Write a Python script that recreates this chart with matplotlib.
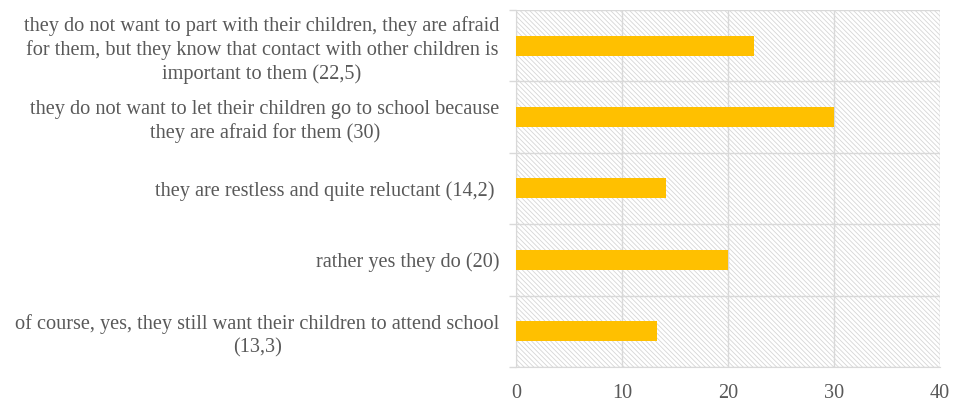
import numpy as np
import matplotlib
matplotlib.use("Agg")
import matplotlib.pyplot as plt
from matplotlib.patches import Rectangle

# answers, top to bottom as in the chart
labels = [
    "they do not want to part with their children, they are afraid\n"
    "for them, but they know that contact with other children is\n"
    "important to them (22,5)",
    "they do not want to let their children go to school because\n"
    "they are afraid for them (30)",
    "they are restless and quite reluctant (14,2) ",
    "rather yes they do (20)",
    "of course, yes, they still want their children to attend school\n"
    "(13,3)",
]
values = [22.5, 30, 14.2, 20, 13.3]
xticks = [0, 10, 20, 30, 40]

barColour = '#FFC000'
gridColour = '#D9D9D9'
textColour = '#595959'

plt.rcParams['font.family'] = ['Liberation Serif', 'DejaVu Serif']
plt.rcParams['hatch.linewidth'] = 0.6

fig = plt.figure(figsize=(9.54, 4.01), dpi=100)
ax = fig.add_axes([0.541, 0.085, 0.444, 0.89])

# hatched plot area background
bg = Rectangle((0, 0), 1, 1, transform=ax.transAxes, facecolor='white',
               edgecolor='#D6D6D6', linewidth=0, hatch='\\' * 7, zorder=0)
ax.add_patch(bg)

pos = np.arange(len(values))
ax.barh(pos, values, height=0.28, color=barColour, zorder=3)

ax.set_xlim(0, 40)
ax.set_ylim(len(values) - 0.5, -0.5)
ax.set_xticks(xticks)
ax.set_xticklabels([str(t) for t in xticks])

ax.set_yticks(pos)
ax.set_yticklabels(labels, multialignment='center', linespacing=1.26)
ax.set_yticks(np.arange(len(values) + 1) - 0.5, minor=True)

ax.grid(axis='x', which='major', color=gridColour, linewidth=1.0, zorder=1)
ax.grid(axis='y', which='minor', color=gridColour, linewidth=1.0, zorder=1)
ax.set_axisbelow(True)

ax.tick_params(axis='y', which='major', length=0, pad=12, labelsize=14.6,
               labelcolor=textColour)
ax.tick_params(axis='y', which='minor', length=5, color=gridColour, width=1.0)
ax.tick_params(axis='x', length=0, pad=12, labelsize=14.6, labelcolor=textColour)

for side in ['top', 'right']:
    ax.spines[side].set_visible(False)
ax.spines['left'].set_color(gridColour)
ax.spines['bottom'].set_color(gridColour)

fig.savefig('out.png', dpi=100)
